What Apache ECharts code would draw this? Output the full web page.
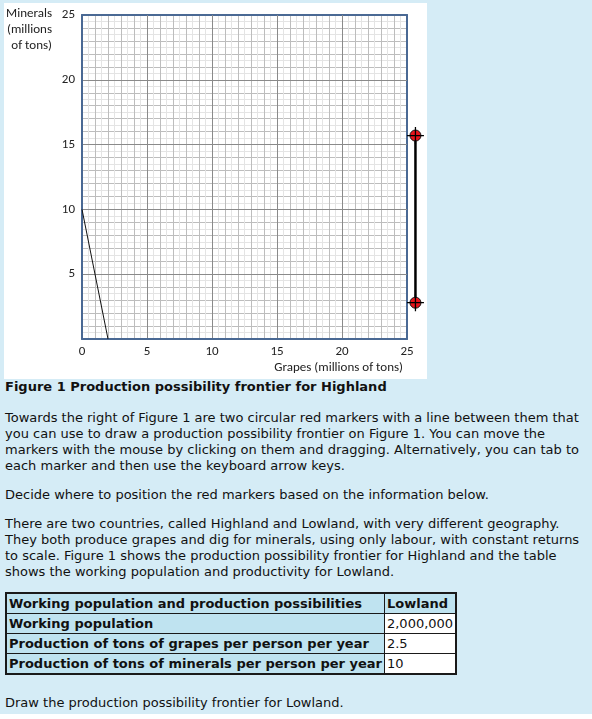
<!DOCTYPE html>
<html>
<head>
<meta charset="utf-8">
<script src="https://cdn.jsdelivr.net/npm/echarts@6/dist/echarts.min.js"></script>
<style>
  html, body { margin:0; padding:0; background:#ffffff; }
  #page { position:absolute; left:0; top:0; width:592px; height:714px; background:#d5ecf6; }
  #chart { position:absolute; left:4px; top:3px; width:423px; height:376px; background:#ffffff; }
  .txt { position:absolute; left:5px; width:585px; font-family:'DejaVu Sans', Verdana, sans-serif; font-size:13px; line-height:16px; color:#111; }
  .cap { font-weight:bold; font-size:13px; }
  table { position:absolute; left:5px; top:592px; border-collapse:collapse; border:2px solid #1a1a1a;
          font-family:'DejaVu Sans', Verdana, sans-serif; font-size:13px; color:#111; }
  td { border:1px solid #1a1a1a; height:19px; padding:0 2px; white-space:nowrap; }
  td.h { background:#bfe3f0; font-weight:bold; }
  td.v { background:#ffffff; }
</style>
</head>
<body>
<div id="page"></div>
<div id="chart"></div>
<div class="txt cap" style="top:379px;">Figure 1 Production possibility frontier for Highland</div>
<div class="txt" style="top:410px;">Towards the right of Figure 1 are two circular red markers with a line between them that you can use to draw a production possibility frontier on Figure 1. You can move the markers with the mouse by clicking on them and dragging. Alternatively, you can tab to each marker and then use the keyboard arrow keys.</div>
<div class="txt" style="top:487px;">Decide where to position the red markers based on the information below.</div>
<div class="txt" style="top:516px;">There are two countries, called Highland and Lowland, with very different geography. They both produce grapes and dig for minerals, using only labour, with constant returns to scale. Figure 1 shows the production possibility frontier for Highland and the table shows the working population and productivity for Lowland.</div>
<table id="tbl"></table>
<div class="txt" style="top:695px;">Draw the production possibility frontier for Lowland.</div>
<script>
// ---- data ----
const xTickValues = [0, 5, 10, 15, 20, 25];
const yTickValues = [0, 5, 10, 15, 20, 25];
const highlandGrapes = [0, 2];
const highlandMinerals = [10, 0];
const markerGrapes = [25.65, 25.65];
const markerMinerals = [15.7, 2.8];
const tableRows = [
  ['Working population and production possibilities', 'Lowland'],
  ['Working population', '2,000,000'],
  ['Production of tons of grapes per person per year', '2.5'],
  ['Production of tons of minerals per person per year', '10']
];

// ---- table ----
const tbl = document.getElementById('tbl');
tableRows.forEach((r, i) => {
  const tr = document.createElement('tr');
  const a = document.createElement('td'); a.className = 'h'; a.textContent = r[0];
  const b = document.createElement('td'); b.className = i === 0 ? 'h' : 'v'; b.textContent = r[1];
  tr.appendChild(a); tr.appendChild(b); tbl.appendChild(tr);
});

// ---- chart ----
const axisColor = '#4a6994';
const labelFont = "Carlito, 'Liberation Sans', sans-serif";
const xMin = xTickValues[0], xMax = xTickValues[xTickValues.length - 1];
const yMin = yTickValues[0], yMax = yTickValues[yTickValues.length - 1];
const step = xTickValues[1] - xTickValues[0];

const chart = echarts.init(document.getElementById('chart'), null, { renderer: 'canvas' });
const highland = highlandGrapes.map((g, i) => [g, highlandMinerals[i]]);
const markers = markerGrapes.map((g, i) => [g, markerMinerals[i]]);

function majorAxis(pos, isX) {
  return {
    type: 'value', position: pos,
    min: isX ? xMin : yMin, max: isX ? xMax : yMax, interval: step,
    axisLine: { show: true, onZero: false, lineStyle: { color: axisColor, width: 2 } },
    axisTick: { show: false },
    axisLabel: {
      show: true, margin: isX ? 6 : 7, color: '#222', fontFamily: labelFont, fontSize: 13,
      formatter: v => (!isX && v === 0) ? '' : String(v)
    },
    splitLine: { show: true, showMinLine: false, showMaxLine: false, lineStyle: { color: '#8a8a8a', width: 1 } },
    z: 4
  };
}
function minorAxis(pos, isX) {
  return {
    type: 'value', position: pos,
    min: isX ? xMin : yMin, max: isX ? xMax : yMax, interval: 1,
    axisLine: { show: true, onZero: false, lineStyle: { color: axisColor, width: 2 } },
    axisTick: { show: false },
    axisLabel: { show: false },
    splitLine: { show: true, showMinLine: false, showMaxLine: false, lineStyle: { color: '#bdbdbd', width: 1 } },
    minorTick: { show: false, splitNumber: 2 },
    minorSplitLine: { show: true, lineStyle: { color: '#e4e4e4', width: 1 } },
    z: 3
  };
}

const xA0 = majorAxis('bottom', true);
xA0.name = 'Grapes (millions of tons)';
xA0.nameLocation = 'end';
xA0.nameGap = -4;
xA0.nameTextStyle = { align: 'right', verticalAlign: 'top', padding: [22, 0, 0, 0], color: '#222', fontFamily: labelFont, fontSize: 13 };

chart.setOption({
  animation: false,
  backgroundColor: '#ffffff',
  grid: { left: 78, top: 12, width: 325, height: 324, containLabel: false },
  xAxis: [xA0, minorAxis('top', true)],
  yAxis: [majorAxis('left', false), minorAxis('right', false)],
  graphic: [{
    type: 'text', x: 48, y: 3, z: 10,
    style: { text: 'Minerals\n(millions\nof tons)', align: 'right', verticalAlign: 'top',
             fill: '#222', font: "13px Carlito, 'Liberation Sans', sans-serif", lineHeight: 16 }
  }],
  series: [
    { type: 'line', xAxisIndex: 0, yAxisIndex: 0, data: highland, symbol: 'none',
      lineStyle: { color: '#111', width: 1 }, z: 5 },
    { type: 'custom', xAxisIndex: 0, yAxisIndex: 0, data: [markers[0]], clip: false, z: 6,
      renderItem: (params, api) => {
        const p0 = api.coord(markers[0]);
        const p1 = api.coord(markers[1]);
        return { type: 'line', shape: { x1: p0[0], y1: p0[1], x2: p1[0], y2: p1[1] },
                 style: { stroke: '#000', lineWidth: 2.5 } };
      } },
    { type: 'scatter', xAxisIndex: 0, yAxisIndex: 0, data: markers, clip: false,
      symbol: 'circle', symbolSize: 11,
      itemStyle: { color: '#e8141b', borderColor: '#111', borderWidth: 1, opacity: 1 }, z: 7 },
    { type: 'scatter', xAxisIndex: 0, yAxisIndex: 0, data: markers, clip: false,
      symbol: 'path://M7.4,0h1.2v16h-1.2z M0,7.4h16v1.2h-16z', symbolSize: 17,
      itemStyle: { color: '#000', opacity: 1 }, z: 8 }
  ]
});
</script>
</body>
</html>
